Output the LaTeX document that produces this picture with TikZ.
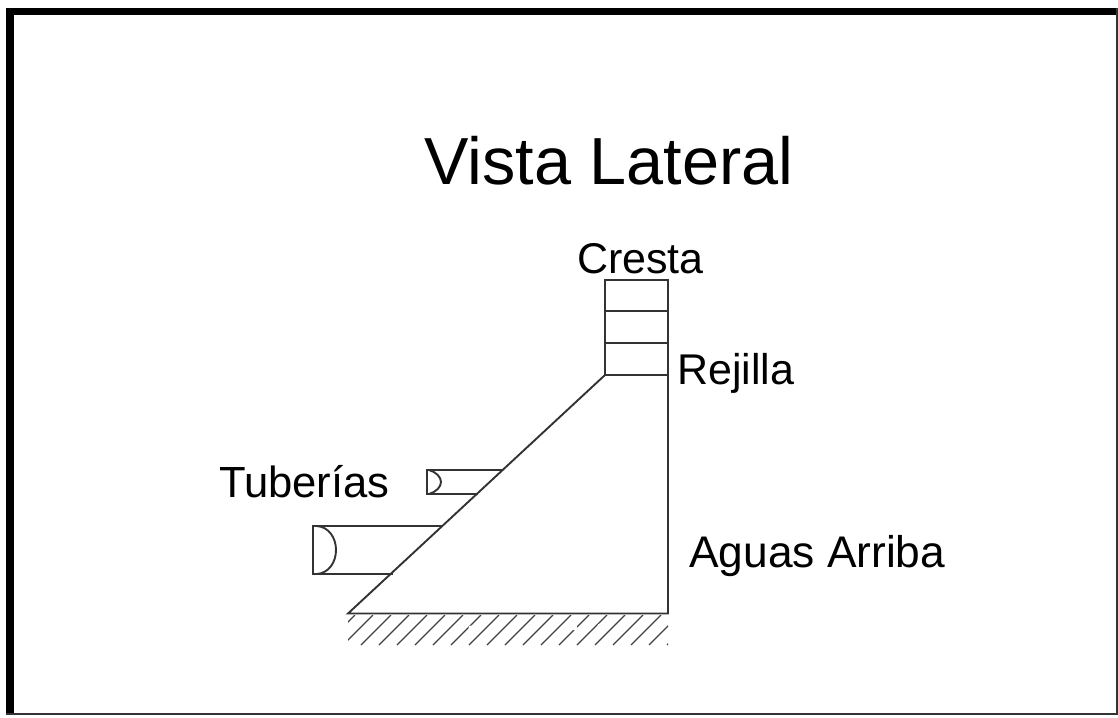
\documentclass[tikz,border=0pt]{standalone}
\usepackage{fontspec}
\setmainfont{Liberation Sans}
\usetikzlibrary{positioning}

\begin{document}
\begin{tikzpicture}[x=1pt,y=-1pt]
	
	\tikzset{wall line/.style={draw=black!80,line width=1.9pt},
		hatch line/.style={draw=black!75,line width=1.2pt},
		big label/.style={anchor=base west,inner sep=0pt,font=\fontsize{#1}{#1}\selectfont},
		big label/.default=43
	}
	
	\useasboundingbox (0,0) rectangle (1118,717);
	
	% frame
	\fill[black] (6,8) rectangle (1118,15);
	\fill[black] (6,8) rectangle (14,715);
	\fill[black!80] (1116,8) rectangle (1118,715);
	\fill[black!80] (6,713) rectangle (1118,715);
	
	% dam
	\draw[wall line] (605,375) -- (605,280) -- (668,280) -- (668,613.5) -- (348,613.5) -- cycle;
	\foreach \y in {311,343,375}
	\draw[wall line] (605,\y) -- (668,\y);
	
	% pipes
	\draw[wall line] (503,470) -- (427,470) -- (427,494) -- (478,494);
	\draw[wall line] (429,470) .. controls (436,472) and (441,477) .. (441,482) .. controls (441,487) and (436,492) .. (429,494);
	\draw[wall line] (443,526) -- (313,526) -- (313,574) -- (393,574);
	\draw[wall line] (317,526) .. controls (329,527) and (336,538) .. (336,550) .. controls (336,562) and (329,573) .. (317,574);
	
	% ground
	\begin{scope}
		\clip (348,615) rectangle (668,645);
		\foreach \x in {355,373,...,697}
		\draw[hatch line] (\x,615) -- +(-30,30);
		\foreach \x/\y in {365/630,418/632,471/628,523/635,575/628,600/626,605/641,650/618}
		\fill[white] (\x,\y) circle (2.5pt);
	\end{scope}
	
	% labels
	\node[big label=66.6] (title) at (424,184) {Vista Lateral};
	\node[big label] (cresta) at (577,273) {Cresta};
	\node[big label] (rejilla) at (677,384) {Rejilla};
	\node[big label=43.6] (tuberias) at (219,497) {Tuberías};
	\node[big label=44.3] (aguas) at (689,567) {Aguas Arriba};
	
\end{tikzpicture}
\end{document}
